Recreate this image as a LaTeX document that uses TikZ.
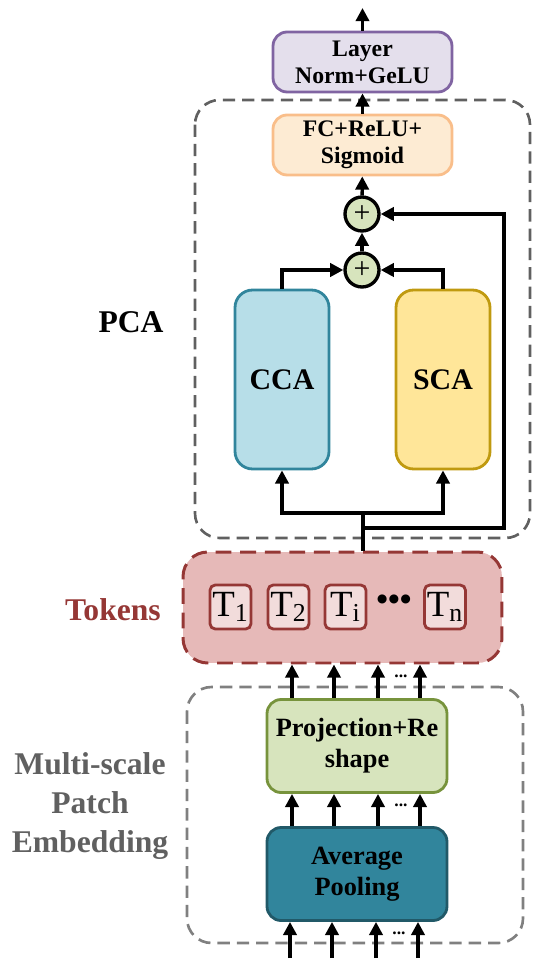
\documentclass[tikz,border=0pt]{standalone}
\usepackage{fontspec}
\setmainfont{Liberation Serif}
\usetikzlibrary{positioning,arrows.meta,calc}
\definecolor{lnFill}{HTML}{E4DFEC}
\definecolor{lnLine}{HTML}{8064A2}
\definecolor{fcFill}{HTML}{FDEBD3}
\definecolor{fcLine}{HTML}{F9BE8A}
\definecolor{sumFill}{HTML}{D7E4BD}
\definecolor{ccaFill}{HTML}{B7DEE8}
\definecolor{ccaLine}{HTML}{31859C}
\definecolor{scaFill}{HTML}{FFE699}
\definecolor{scaLine}{HTML}{C09A10}
\definecolor{tokRed}{HTML}{953735}
\definecolor{tokFill}{HTML}{E6B9B8}
\definecolor{tiFill}{HTML}{F2DCDB}
\definecolor{projLine}{HTML}{77933C}
\definecolor{poolFill}{HTML}{31859C}
\definecolor{poolLine}{HTML}{215968}
\definecolor{grpDark}{HTML}{606060}
\definecolor{grpLight}{HTML}{808080}

\begin{document}
\begin{tikzpicture}[
x=0.02cm, y=-0.02cm,
>={Triangle[length=7.5pt,width=7.5pt]}, line width=1.9pt,
blk/.style={draw, rounded corners=8pt, line width=1.6pt, align=center, inner sep=1pt,
  font=\bfseries\fontsize{13.5}{15.5}\selectfont, minimum width=3.58cm, minimum height=1.2cm},
bigblk/.style={blk, rounded corners=10pt, minimum width=1.88cm, minimum height=3.58cm,
  font=\bfseries\fontsize{17}{19}\selectfont},
lowblk/.style={blk, minimum width=3.6cm, minimum height=1.86cm,
  font=\bfseries\fontsize{15}{17.5}\selectfont},
sum/.style={draw, circle, fill=sumFill, minimum size=0.68cm, inner sep=0pt, line width=1.9pt,
  font=\fontsize{17}{17}\selectfont},
tokbox/.style={draw=tokRed, fill=tiFill, rounded corners=3pt, line width=1.6pt,
  minimum width=0.82cm, minimum height=0.88cm, inner sep=0pt, font=\fontsize{21}{21}\selectfont},
grp/.style={dashed, dash pattern=on 7pt off 4pt, line width=1.5pt, rounded corners=14pt},
lbl/.style={font=\bfseries\fontsize{18}{22}\selectfont, align=center},
etc/.style={font=\bfseries\fontsize{10}{10}\selectfont, inner sep=0pt}
]
\useasboundingbox (0,0) rectangle (550,972);

% dashed groups
\draw[grp, draw=grpDark] (195,100) rectangle (530,538);
\draw[grp, draw=grpLight] (187,687) rectangle (523,943);
\node[grp, draw=tokRed, fill=tokFill, dash pattern=on 9pt off 5pt, line width=1.7pt,
  minimum width=6.38cm, minimum height=2.22cm] (tok) at (342.5,607.5) {};

% blocks
\node[blk, draw=lnLine, fill=lnFill] (ln) at (362.5,62) {Layer\\Norm+GeLU};
\node[blk, draw=fcLine, fill=fcFill] (fc) at (362.5,145) {FC+ReLU+\\Sigmoid};
\node[sum] (plus1) at (362,214) {+};
\node[sum] (plus2) at (362,270) {+};
\node[bigblk, draw=ccaLine, fill=ccaFill] (cca) at (282,379.5) {CCA};
\node[bigblk, draw=scaLine, fill=scaFill] (sca) at (443,379.5) {SCA};
\node[lowblk, draw=projLine, fill=sumFill] (proj) at (357,746) {Projection+Re\\shape};
\node[lowblk, draw=poolLine, fill=poolFill] (pool) at (357,874) {Average\\Pooling};

% tokens
\node[tokbox] (t1) at (230.5,607) {T\textsubscript{1}};
\node[tokbox] (t2) at (288.5,607) {T\textsubscript{2}};
\node[tokbox] (ti) at (345.5,607) {T\textsubscript{i}};
\node[font=\bfseries\fontsize{19}{19}\selectfont, inner sep=0pt] (tdots) at (394,603) {•••};
\node[tokbox] (tn) at (445,607) {T\textsubscript{n}};

% labels
\node[lbl] (pcaLbl) at (131,322) {PCA};
\node[lbl, text=tokRed] (tokLbl) at (113,610) {Tokens};
\node[lbl, text=grpDark] (mspeLbl) at (90,806) {Multi-scale\\Patch\\Embedding};

% connections
\coordinate (out) at (362.5,8);
\coordinate (fork) at (363,513);
\coordinate (split) at (363,528);
\coordinate (skip) at (504,528);
\draw[->] (ln) -- (out);
\draw[->] (fc) -- (ln);
\draw[->] (plus1) -- (fc);
\draw[->] (plus2) -- (plus1);
\draw[->] (cca.north) |- (plus2.west);
\draw[->] (sca.north) |- (plus2.east);
\draw (tok.north -| fork) -- (fork);
\draw[->] (fork) -| (cca.south);
\draw[->] (fork) -| (sca.south);
\draw[->] (split) -- (skip) |- (plus1.east);

% parallel arrows
\foreach \i/\x in {1/292,2/334,3/378,4/420}{
  \coordinate (c\i) at (\x,0);
  \coordinate (in\i) at (\x-2,958);
  \draw[->] (proj.north -| c\i) -- (tok.south -| c\i);
  \draw[->] (pool.north -| c\i) -- (proj.south -| c\i);
  \draw[->] (in\i) -- (pool.south -| in\i);
}
\node[etc] (d1) at (401,676) {...};
\node[etc] (d2) at (401,805) {...};
\node[etc] (d3) at (399,933) {...};
\end{tikzpicture}
\end{document}
